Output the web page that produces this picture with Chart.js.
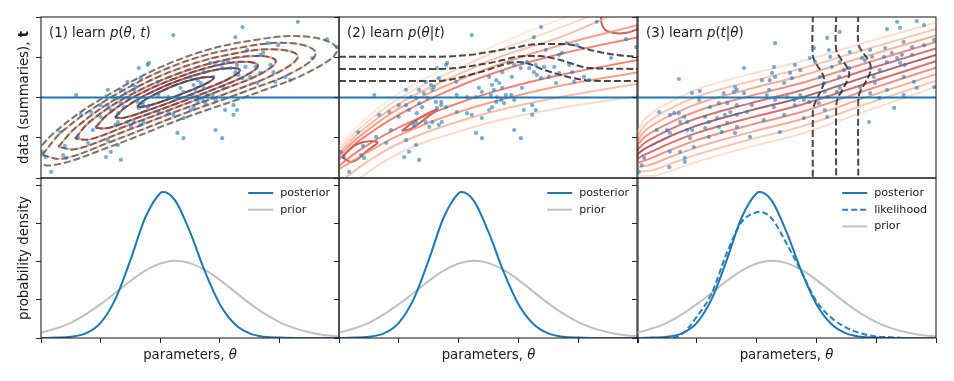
<!DOCTYPE html>
<html>
<head>
<meta charset="utf-8">
<script src="https://cdn.jsdelivr.net/npm/chart.js@4.4.1/dist/chart.umd.min.js"></script>
<style>
  body { margin: 0; background: #fff; }
  #wrap { position: relative; width: 954px; height: 381px; }
  #wrap canvas { position: absolute; left: 0; top: 0; }
</style>
</head>
<body>
<div id="wrap">
  <canvas id="c1" width="954" height="381"></canvas>
  <canvas id="c2" width="954" height="381"></canvas>
  <canvas id="c3" width="954" height="381"></canvas>
  <canvas id="c4" width="954" height="381"></canvas>
  <canvas id="c5" width="954" height="381"></canvas>
  <canvas id="c6" width="954" height="381"></canvas>
</div>
<script>
// ---- data ----
const thetaGrid = [0, 0.25, 0.5, 0.75, 1, 1.25, 1.5, 1.75, 2, 2.05, 2.25, 2.5, 2.75, 3, 3.25, 3.5, 3.75, 4, 4.25, 4.5, 4.75, 5];
const posterior = [0, 0.01, 0.03, 0.12, 0.40, 1.03, 2.05, 3.17, 3.81, 3.84, 3.62, 2.79, 1.75, 0.89, 0.37, 0.12, 0.03, 0.01, 0, 0, 0, 0];
const likelihood = [0, 0, 0, 0.10, 0.56, 1.18, 2.23, 3.05, 3.31, 3.32, 3.15, 2.49, 1.74, 0.97, 0.53, 0.27, 0.12, 0.04, 0.02, 0, 0, 0];
const prior = [0.14, 0.25, 0.40, 0.62, 0.89, 1.19, 1.50, 1.77, 1.96, 1.98, 2.03, 1.97, 1.79, 1.53, 1.22, 0.91, 0.64, 0.42, 0.26, 0.15, 0.08, 0.04];

const tObserved = 2;

// simulated (theta, t) pairs, panels 1 and 2
const jointSamples = [
  [2.22,3.55],[1.64,2.73],[1.79,2.81],[1.81,2.86],[0.59,2.06],[1.54,2.31],[1.59,2.26],[1.42,2.11],[1.20,2.01],[1.29,1.99],
  [1.47,1.99],[1.62,1.89],[1.71,1.89],[1.34,1.86],[1.39,1.76],[1.00,1.81],[1.71,1.81],[1.64,1.74],[1.79,1.76],[1.17,1.69],
  [1.30,1.61],[0.84,1.64],[0.67,1.57],[1.97,1.64],[2.14,1.61],[2.22,1.57],[2.39,1.49],[1.45,1.39],[1.56,1.39],[1.29,1.39],
  [1.25,1.32],[1.51,1.27],[1.67,1.32],[1.72,1.39],[1.00,1.52],[1.12,1.81],[0.87,1.19],[0.62,1.02],[1.12,0.94],[0.79,0.87],
  [1.29,0.82],[2.29,1.12],[2.39,0.99],[1.17,0.65],[1.09,0.52],[1.34,0.45],[0.37,0.57],[0.42,0.50],[0.17,0.15],[0.03,0.65],
  [0.08,0.52],[1.97,2.06],[2.14,2.01],[2.29,2.01],[2.34,2.24],[2.39,2.14],[1.96,2.39],[1.45,2.39],[1.67,2.48],[1.56,2.19],
  [1.12,2.19],[1.34,2.19],[0.32,1.14],[0.40,0.80],
  [3.38,3.75],[4.31,3.88],[3.26,3.50],[3.81,3.35],[3.98,3.30],[4.80,3.45],[4.97,3.25],[3.46,3.18],[3.68,3.06],[3.73,3.11],
  [3.14,2.88],[3.29,2.81],[3.43,2.76],[3.06,2.86],[3.18,2.73],[3.04,2.73],[2.84,2.86],[2.93,2.81],[2.73,2.63],[2.89,2.51],
  [3.26,2.63],[3.31,2.56],[3.38,2.48],[3.51,2.51],[3.60,2.76],[3.85,2.81],[3.90,2.63],[3.68,2.61],[3.63,2.36],[3.93,2.39],
  [4.10,2.51],[4.18,2.43],[4.55,2.98],[2.63,2.43],[2.68,2.36],[2.51,2.51],[2.56,2.31],[2.54,2.06],[2.64,2.01],[2.79,2.06],
  [2.88,2.06],[2.93,1.94],[2.71,1.94],[2.76,1.86],[2.63,1.89],[2.56,1.76],[2.51,1.69],[3.09,1.69],[3.23,1.81],[3.29,1.69],
  [3.23,1.57],[2.93,1.19],[3.04,0.99],[3.06,2.24],[2.73,2.24],[2.59,2.19]
];

// simulated (theta, t) pairs, panel 3
const condSamples = [
  [2.31,3.35],[0.70,2.46],[1.79,2.73],[2.29,2.76],[2.26,2.61],[2.31,2.51],[2.22,2.43],[2.09,2.43],[2.46,2.36],[1.64,2.26],
  [1.67,2.19],[1.79,2.11],[1.62,2.14],[1.45,2.11],[1.37,1.86],[1.51,1.86],[1.67,1.81],[1.56,1.64],[1.47,1.57],[1.67,1.57],
  [1.84,1.64],[1.92,1.81],[2.21,2.19],[2.17,2.06],[2.31,1.94],[2.29,1.76],[2.46,1.57],[2.12,1.44],[2.39,1.14],[1.05,2.16],
  [1.04,1.94],[0.92,2.11],[0.62,1.61],[0.70,1.61],[0.79,1.52],[0.72,1.39],[0.84,1.39],[0.55,1.57],[0.37,1.64],[0.33,1.19],
  [0.50,1.19],[0.55,1.12],[0.84,1.19],[0.92,1.19],[1.14,1.52],[1.20,1.39],[1.34,1.49],[1.14,1.24],[1.37,1.27],[1.20,1.02],
  [1.42,1.14],[1.64,1.12],[1.67,1.27],[1.51,1.37],[1.22,1.76],[0.89,0.99],[0.55,0.65],[0.72,0.65],[0.80,0.50],[0.80,0.40],
  [0.54,0.27],[0.95,0.77],[0.12,0.50],[0.08,0.32],[0.03,0.15],[1.89,1.02],
  [3.39,3.63],[3.18,3.48],[4.18,3.70],[4.35,3.88],[4.68,3.90],[4.40,3.73],[4.80,3.80],[4.46,3.38],[4.60,3.25],[4.80,3.30],
  [4.97,3.43],[4.15,3.23],[3.90,3.18],[3.56,3.13],[3.21,3.18],[2.96,3.23],[2.89,2.98],[2.98,2.88],[3.23,3.01],[3.39,2.88],
  [3.26,2.76],[3.55,2.73],[3.46,2.68],[3.76,2.98],[3.93,3.01],[3.81,2.93],[4.13,3.01],[4.26,3.11],[4.35,2.98],[4.43,3.06],
  [4.60,3.06],[4.18,2.88],[4.40,2.86],[4.48,2.81],[4.06,2.68],[3.90,2.73],[3.96,2.51],[3.98,2.36],[4.46,2.51],[4.63,2.39],
  [4.97,2.26],[4.18,2.19],[4.68,2.24],[4.46,2.06],[3.90,2.11],[3.73,2.26],[3.39,2.24],[3.34,2.14],[3.14,2.14],[3.18,2.01],
  [3.06,2.51],[3.13,2.36],[3.38,2.51],[2.73,2.68],[2.64,2.81],[2.56,2.61],[2.59,2.48],[2.64,1.81],[2.73,2.06],[2.79,1.94],
  [2.88,1.89],[3.04,1.86],[2.63,1.94],[2.51,2.01],[4.30,1.74],[3.88,1.39],[3.14,1.69],[3.18,1.52],[2.79,1.49],[4.05,1.99]
];

// (1) joint density contours, outer to inner
const jointContours = [
  [[-0.18,0.41],[0.21,1.11],[1.11,2.05],[2.40,2.99],[3.68,3.45],[4.58,3.49],[4.97,3.19],[4.58,2.70],[3.68,2.15],[2.40,1.49],[1.11,0.75],[0.21,0.32],[-0.18,0.41]],
  [[0.02,0.57],[0.36,1.16],[1.17,2.00],[2.32,2.84],[3.46,3.27],[4.27,3.34],[4.61,3.10],[4.27,2.66],[3.46,2.17],[2.32,1.56],[1.17,0.90],[0.36,0.48],[0.02,0.57]],
  [[0.29,0.77],[0.59,1.26],[1.30,2.00],[2.30,2.71],[3.31,3.11],[4.01,3.19],[4.31,3.02],[4.01,2.65],[3.31,2.21],[2.30,1.67],[1.30,1.10],[0.59,0.72],[0.29,0.77]],
  [[0.57,0.98],[0.82,1.40],[1.41,1.99],[2.26,2.57],[3.10,2.94],[3.69,3.03],[3.94,2.90],[3.69,2.59],[3.10,2.23],[2.26,1.75],[1.41,1.28],[0.82,0.96],[0.57,0.98]],
  [[0.91,1.25],[1.12,1.58],[1.59,2.04],[2.28,2.49],[2.96,2.80],[3.44,2.89],[3.64,2.79],[3.44,2.55],[2.96,2.24],[2.28,1.85],[1.59,1.48],[1.12,1.24],[0.91,1.25]],
  [[1.24,1.50],[1.40,1.74],[1.77,2.07],[2.29,2.41],[2.82,2.65],[3.18,2.73],[3.34,2.68],[3.18,2.49],[2.82,2.25],[2.29,1.95],[1.77,1.67],[1.40,1.50],[1.24,1.50]],
  [[1.61,1.77],[1.71,1.91],[1.93,2.09],[2.26,2.31],[2.58,2.46],[2.80,2.51],[2.90,2.49],[2.80,2.37],[2.58,2.22],[2.26,2.03],[1.93,1.85],[1.71,1.77],[1.61,1.77]]
];
const jointColors = ['#fee0d2b3', '#fcbba1b3', '#fc9272b3', '#fb6a4ab3', '#de2d26b3', '#a50f15b3', '#67000db3'];

// (2) contours behind p(theta|t)
const postContours = [
  [[0,0.78],[0.35,1.34],[1.02,2.12],[1.86,2.78],[2.69,3.35],[3.36,3.75],[3.90,4.05]],
  [[0,0.70],[0.35,1.24],[1.02,1.99],[1.86,2.63],[2.69,3.18],[3.36,3.55],[4.20,4.02]],
  [[0,0.62],[0.35,1.14],[1.02,1.86],[1.86,2.48],[2.69,3.01],[3.70,3.50],[4.53,4.02]],
  [[0,0.55],[0.35,1.04],[1.02,1.74],[1.86,2.34],[2.69,2.83],[3.70,3.30],[5.00,3.80]],
  [[0,0.47],[0.35,0.94],[1.02,1.59],[1.86,2.19],[2.69,2.66],[3.70,3.08],[5.00,3.50]],
  [[0,0.30],[0.35,0.70],[1.02,1.27],[1.86,1.79],[2.69,2.19],[3.70,2.56],[5.00,2.93]],
  [[0,0.22],[0.43,0.60],[1.02,1.07],[1.86,1.57],[2.69,1.94],[3.70,2.29],[5.00,2.63]],
  [[0.10,0],[0.52,0.45],[1.02,0.87],[1.86,1.34],[2.69,1.69],[3.70,2.01],[5.00,2.34]],
  [[0.35,0],[0.69,0.35],[1.19,0.75],[1.86,1.09],[2.69,1.44],[3.70,1.74],[5.00,2.04]],
  [[0.05,0.52],[0.32,0.85],[0.64,0.89],[0.49,0.70],[0.22,0.40],[0.05,0.52]],
  [[1.05,1.17],[1.30,1.45],[1.64,1.70],[1.45,1.48],[1.20,1.22],[1.05,1.17]],
  [[4.38,4.05],[4.40,3.80],[4.50,3.64],[4.78,3.60],[5.05,3.73]]
];
const postColors = ['#fee5d9cc', '#fdd0bccc', '#fcae91cc', '#fb8a6acc', '#f06050cc', '#f06050cc', '#fb8a6acc', '#fcae91cc', '#fdd0bccc', '#b83a3fcc', '#b83a3fcc', '#b83a3fcc'];
const postDashed = [
  [[0,3.01],[1.52,3.01],[2.19,3.06],[2.86,3.22],[3.36,3.33],[3.78,3.33],[4.20,3.18],[4.62,3.06],[5.0,3.01]],
  [[0,2.71],[1.69,2.71],[2.53,2.86],[3.11,3.03],[3.36,3.03],[3.70,2.93],[4.20,2.73],[5.0,2.71]],
  [[0,2.41],[1.61,2.41],[2.36,2.63],[2.86,2.86],[3.03,2.88],[3.44,2.68],[3.95,2.47],[4.36,2.41],[5.0,2.41]]
];

// (3) contours behind p(t|theta)
const likeCurves = [
  [[0,1.10],[0.1,1.40],[0.25,1.62],[0.5,1.85],[1.0,2.20],[1.9,2.58],[2.75,2.90],[3.9,3.40],[5.0,3.86]],
  [[0,1.00],[0.1,1.26],[0.25,1.46],[0.5,1.68],[1.0,2.02],[1.9,2.40],[2.75,2.72],[3.9,3.23],[5.0,3.70]],
  [[0,0.89],[0.1,1.12],[0.25,1.30],[0.5,1.51],[1.0,1.84],[1.9,2.22],[2.75,2.54],[3.9,3.06],[5.0,3.54]],
  [[0,0.79],[0.1,0.98],[0.25,1.14],[0.5,1.34],[1.0,1.66],[1.9,2.04],[2.75,2.36],[3.9,2.89],[5.0,3.38]],
  [[0,0.68],[0.1,0.84],[0.25,0.98],[0.5,1.17],[1.0,1.48],[1.9,1.86],[2.75,2.18],[3.9,2.72],[5.0,3.22]],
  [[0,0.58],[0.1,0.70],[0.25,0.82],[0.5,1.00],[1.0,1.30],[1.9,1.68],[2.75,2.00],[3.9,2.55],[5.0,3.06]],
  [[0,0.47],[0.1,0.56],[0.25,0.66],[0.5,0.83],[1.0,1.12],[1.9,1.50],[2.75,1.82],[3.9,2.38],[5.0,2.90]],
  [[0,0.37],[0.1,0.42],[0.25,0.50],[0.5,0.66],[1.0,0.94],[1.9,1.32],[2.75,1.64],[3.9,2.21],[5.0,2.74]],
  [[0,0.26],[0.1,0.29],[0.25,0.34],[0.5,0.49],[1.0,0.76],[1.9,1.14],[2.75,1.46],[3.9,2.04],[5.0,2.58]],
  [[0,0.16],[0.1,0.17],[0.25,0.19],[0.5,0.32],[1.0,0.58],[1.9,0.96],[2.75,1.28],[3.9,1.87],[5.0,2.42]],
  [[0,0.05],[0.1,0.05],[0.25,0.05],[0.5,0.15],[1.0,0.40],[1.9,0.78],[2.75,1.10],[3.9,1.70],[5.0,2.26]]
];
const likeColors = ['#fdd0bcb3', '#fcae91b3', '#fb8a6ab3', '#f06050b3', '#c9302cb3', '#8b1a24b3', '#c9302cb3', '#f06050b3', '#fb8a6ab3', '#fcae91b3', '#fdd0bcb3'];
const likeDashed = [
  [[2.94,4.05],[2.94,3.05],[2.99,2.85],[3.08,2.65],[3.13,2.45],[3.10,2.25],[3.02,2.0],[2.95,1.75],[2.94,1.5],[2.94,-0.05]],
  [[3.33,4.05],[3.33,3.2],[3.40,2.98],[3.50,2.78],[3.55,2.6],[3.51,2.4],[3.42,2.15],[3.35,1.95],[3.33,1.7],[3.33,-0.05]],
  [[3.70,4.05],[3.70,3.35],[3.76,3.15],[3.86,2.95],[3.91,2.76],[3.88,2.55],[3.79,2.3],[3.72,2.1],[3.70,1.85],[3.70,-0.05]]
];

// ---- layout ----
const W = 954, H = 381;
const FONT = '"DejaVu Sans", sans-serif';
const cols = [[41, 339], [339, 638], [637, 936]];
const topRow = [17, 178], bottomRow = [178, 338];

const pts = arr => arr.map(p => ({ x: p[0], y: p[1] }));
const curve = ys => thetaGrid.map((x, i) => ({ x: x, y: ys[i] }));

function lineSet(data, color, width, dash, order, mono, label) {
  return {
    type: 'line', label: label, data: data,
    borderColor: color, borderWidth: width, borderDash: dash || [],
    pointRadius: 0, fill: false, tension: 0.4,
    cubicInterpolationMode: mono ? 'monotone' : 'default',
    capBezierPoints: false, order: order, clip: 0
  };
}

function scatterSet(samples) {
  return {
    type: 'scatter', data: pts(samples), showLine: false,
    pointRadius: 2.1, backgroundColor: 'rgba(31,119,180,0.6)', borderWidth: 0,
    order: 0, clip: 0
  };
}

function observedLine() {
  return lineSet([{ x: 0, y: tObserved }, { x: 5, y: tObserved }], '#1f77b4', 2, [], 1, true);
}

function axes(yMax, xTicks) {
  const tickGrid = { display: true, drawOnChartArea: false, drawTicks: true, tickLength: 5, color: '#262626', lineWidth: 1 };
  return {
    x: {
      type: 'linear', min: 0, max: 5,
      ticks: { display: false, stepSize: 1 },
      grid: xTicks ? tickGrid : { display: false },
      border: { display: false },
      afterFit: s => { s.height = 0; }
    },
    y: {
      type: 'linear', min: 0, max: yMax,
      ticks: { display: false, stepSize: 1, includeBounds: false },
      grid: tickGrid,
      border: { display: false },
      afterFit: s => { s.width = 0; }
    }
  };
}

const framePlugin = {
  id: 'frame',
  afterDatasetsDraw(chart) {
    const a = chart.chartArea, ctx = chart.ctx;
    ctx.save();
    ctx.strokeStyle = '#262626';
    ctx.lineWidth = 1.1;
    ctx.strokeRect(a.left, a.top, a.right - a.left, a.bottom - a.top);
    ctx.restore();
  }
};

function runFont(style, size) {
  return (style === 'i' ? 'italic ' : style === 'b' ? 'bold ' : '') + size + 'px ' + FONT;
}

// text with mixed upright / italic / bold runs
function textPlugin(items) {
  return {
    id: 'richText',
    afterDraw(chart) {
      const ctx = chart.ctx;
      items.forEach(item => {
        ctx.save();
        ctx.translate(item.x, item.y);
        if (item.rot) ctx.rotate(item.rot);
        ctx.fillStyle = '#1a1a1a';
        ctx.textAlign = 'left';
        ctx.textBaseline = 'alphabetic';
        const widths = item.runs.map(r => { ctx.font = runFont(r[1], item.size); return ctx.measureText(r[0]).width; });
        const total = widths.reduce((a, b) => a + b, 0);
        let cx = item.align === 'center' ? -total / 2 : 0;
        item.runs.forEach((r, i) => {
          ctx.font = runFont(r[1], item.size);
          ctx.fillText(r[0], cx, 0);
          cx += widths[i];
        });
        ctx.restore();
      });
    }
  };
}

function legendPlugin(labels) {
  return {
    id: 'miniLegend',
    afterDraw(chart) {
      const ctx = chart.ctx, a = chart.chartArea;
      ctx.save();
      ctx.font = '11.1px ' + FONT;
      const maxW = Math.max(...labels.map(l => ctx.measureText(l).width));
      const textX = a.right - 9 - maxW;
      labels.forEach((lab, i) => {
        const ds = chart.data.datasets.find(d => d.label === lab);
        const y = a.top + 15 + i * 16.7;
        ctx.strokeStyle = ds.borderColor;
        ctx.lineWidth = ds.borderWidth;
        ctx.setLineDash(ds.borderDash || []);
        ctx.beginPath();
        ctx.moveTo(textX - 32, y);
        ctx.lineTo(textX - 7, y);
        ctx.stroke();
        ctx.setLineDash([]);
        ctx.fillStyle = '#1a1a1a';
        ctx.textBaseline = 'middle';
        ctx.fillText(lab, textX, y);
      });
      ctx.restore();
    }
  };
}

function makePanel(id, col, row, yMax, xTicks, datasets, plugins) {
  return new Chart(document.getElementById(id), {
    type: 'line',
    data: { datasets: datasets },
    options: {
      responsive: false, animation: false, events: [],
      layout: { padding: { left: col[0], right: W - col[1], top: row[0], bottom: H - row[1] } },
      plugins: { legend: { display: false }, tooltip: { enabled: false } },
      scales: axes(yMax, xTicks)
    },
    plugins: [framePlugin].concat(plugins || [])
  });
}

const DASH = [7, 3];
const TXT = 13.3;

// ---- top row ----
const joint = [scatterSet(jointSamples), observedLine()];
jointContours.forEach((c, i) => {
  joint.push(lineSet(pts(c), jointColors[i], 2, [], 4, false));
  joint.push(lineSet(pts(c), 'rgba(70,70,70,0.72)', 2, DASH, 3, false));
});
makePanel('c1', cols[0], topRow, 4, false, joint, [textPlugin([
  { x: 28, y: 97.5, rot: -Math.PI / 2, align: 'center', size: TXT, runs: [['data (summaries), ', 'n'], ['t', 'b']] },
  { x: 49, y: 37, size: TXT, runs: [['(1) learn ', 'n'], ['p', 'i'], ['(', 'n'], ['θ', 'i'], [', ', 'n'], ['t', 'i'], [')', 'n']] }
])]);

const cond = [scatterSet(jointSamples), observedLine()];
postContours.forEach((c, i) => cond.push(lineSet(pts(c), postColors[i], 2, [], 4, false)));
postDashed.forEach(c => cond.push(lineSet(pts(c), 'rgba(40,40,40,0.85)', 2, DASH, 2, true)));
makePanel('c2', cols[1], topRow, 4, false, cond, [textPlugin([
  { x: 347, y: 37, size: TXT, runs: [['(2) learn ', 'n'], ['p', 'i'], ['(', 'n'], ['θ', 'i'], ['|', 'n'], ['t', 'i'], [')', 'n']] }
])]);

const like = [scatterSet(condSamples), observedLine()];
likeCurves.forEach((c, i) => like.push(lineSet(pts(c), likeColors[i], 2, [], 4, true)));
likeDashed.forEach(c => like.push(lineSet(pts(c), 'rgba(40,40,40,0.85)', 2, DASH, 2, false)));
makePanel('c3', cols[2], topRow, 4, false, like, [textPlugin([
  { x: 646, y: 37, size: TXT, runs: [['(3) learn ', 'n'], ['p', 'i'], ['(', 'n'], ['t', 'i'], ['|', 'n'], ['θ', 'i'], [')', 'n']] }
])]);

// ---- bottom row ----
const bottomMax = 4.21;
function xLabel(col) {
  return { x: (col[0] + col[1]) / 2, y: 359, align: 'center', size: TXT, runs: [['parameters, ', 'n'], ['θ', 'i']] };
}
function densitySets(withLikelihood) {
  const sets = [
    lineSet(curve(posterior), '#1f77b4', 2, [], 0, true, 'posterior'),
    lineSet(curve(prior), '#c0c0c0', 2, [], 2, true, 'prior')
  ];
  if (withLikelihood) sets.push(lineSet(curve(likelihood), '#2f7fbd', 2, [6, 3], 1, true, 'likelihood'));
  return sets;
}

makePanel('c4', cols[0], bottomRow, bottomMax, true, densitySets(false), [
  textPlugin([
    { x: 28, y: 258, rot: -Math.PI / 2, align: 'center', size: TXT, runs: [['probability density', 'n']] },
    xLabel(cols[0])
  ]),
  legendPlugin(['posterior', 'prior'])
]);
makePanel('c5', cols[1], bottomRow, bottomMax, true, densitySets(false), [
  textPlugin([xLabel(cols[1])]),
  legendPlugin(['posterior', 'prior'])
]);
makePanel('c6', cols[2], bottomRow, bottomMax, true, densitySets(true), [
  textPlugin([xLabel(cols[2])]),
  legendPlugin(['posterior', 'likelihood', 'prior'])
]);
</script>
</body>
</html>
